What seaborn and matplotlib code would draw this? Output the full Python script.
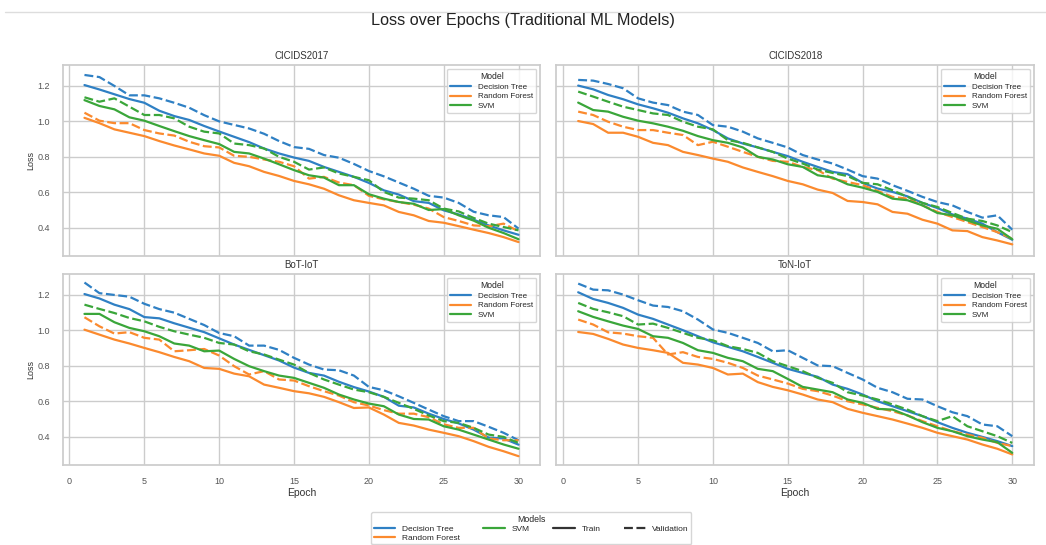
import numpy as np
import pandas as pd
import matplotlib.pyplot as plt
import seaborn as sns
from matplotlib.lines import Line2D

epochs = list(range(1, 31))
datasets = ['CICIDS2017', 'CICIDS2018', 'BoT-IoT', 'ToN-IoT']
models = ['Decision Tree', 'Random Forest', 'SVM']

# CICIDS2017
cic17_dt_train = [1.205, 1.18, 1.153, 1.126, 1.105, 1.06, 1.03, 1.008, 0.974, 0.943, 0.913, 0.883, 0.847, 0.819, 0.796,
                  0.777, 0.743, 0.715, 0.687, 0.653, 0.611, 0.587, 0.55, 0.54, 0.498, 0.475, 0.445, 0.413, 0.385, 0.36]
cic17_dt_val = [1.262, 1.25, 1.2, 1.147, 1.147, 1.13, 1.105, 1.077, 1.035, 1.0, 0.98, 0.96, 0.93, 0.889, 0.855,
                0.845, 0.81, 0.795, 0.76, 0.72, 0.69, 0.655, 0.62, 0.58, 0.57, 0.54, 0.49, 0.47, 0.46, 0.395]
cic17_rf_train = [1.02, 0.99, 0.955, 0.936, 0.917, 0.889, 0.864, 0.842, 0.819, 0.806, 0.766, 0.747, 0.715, 0.692, 0.664,
                  0.645, 0.62, 0.583, 0.555, 0.54, 0.526, 0.489, 0.47, 0.438, 0.428, 0.409, 0.389, 0.37, 0.347, 0.319]
cic17_rf_val = [1.049, 1.004, 0.99, 0.99, 0.951, 0.932, 0.92, 0.885, 0.86, 0.853, 0.806, 0.8, 0.785, 0.772, 0.747,
                0.677, 0.687, 0.655, 0.64, 0.58, 0.56, 0.545, 0.53, 0.508, 0.46, 0.438, 0.413, 0.408, 0.423, 0.38]
cic17_svm_train = [1.12, 1.087, 1.068, 1.023, 1.004, 0.974, 0.945, 0.917, 0.894, 0.872, 0.828, 0.819, 0.79, 0.758, 0.725,
                   0.696, 0.683, 0.64, 0.64, 0.589, 0.564, 0.545, 0.535, 0.5, 0.505, 0.47, 0.44, 0.4, 0.37, 0.335]
cic17_svm_val = [1.136, 1.111, 1.13, 1.083, 1.036, 1.036, 1.017, 0.97, 0.942, 0.932, 0.875, 0.866, 0.847, 0.8, 0.772,
                 0.728, 0.74, 0.706, 0.687, 0.668, 0.602, 0.57, 0.564, 0.555, 0.508, 0.492, 0.455, 0.423, 0.404, 0.385]

# CICIDS2018
cic18_dt_train = [1.202, 1.181, 1.149, 1.125, 1.096, 1.074, 1.049, 1.017, 0.989, 0.951, 0.904, 0.875, 0.853, 0.828, 0.804,
                  0.772, 0.743, 0.715, 0.702, 0.653, 0.621, 0.602, 0.577, 0.54, 0.511, 0.475, 0.451, 0.423, 0.375, 0.332]
cic18_dt_val = [1.234, 1.23, 1.211, 1.187, 1.13, 1.106, 1.092, 1.055, 1.036, 0.979, 0.97, 0.942, 0.904, 0.879, 0.853,
                0.81, 0.785, 0.762, 0.728, 0.691, 0.677, 0.64, 0.608, 0.574, 0.545, 0.526, 0.489, 0.457, 0.47, 0.389]
cic18_rf_train = [1.002, 0.985, 0.936, 0.936, 0.913, 0.879, 0.866, 0.828, 0.81, 0.79, 0.772, 0.74, 0.715, 0.691, 0.664,
                  0.645, 0.615, 0.596, 0.551, 0.545, 0.532, 0.489, 0.479, 0.445, 0.423, 0.385, 0.381, 0.347, 0.328, 0.306]
cic18_rf_val = [1.055, 1.036, 0.998, 0.97, 0.951, 0.951, 0.936, 0.923, 0.866, 0.885, 0.857, 0.828, 0.8, 0.777, 0.772,
                0.743, 0.725, 0.677, 0.658, 0.64, 0.608, 0.574, 0.564, 0.526, 0.489, 0.46, 0.432, 0.404, 0.375, 0.338]
cic18_svm_train = [1.106, 1.064, 1.055, 1.026, 1.004, 0.989, 0.97, 0.947, 0.917, 0.894, 0.879, 0.853, 0.8, 0.785, 0.758,
                   0.743, 0.696, 0.683, 0.645, 0.626, 0.602, 0.564, 0.555, 0.526, 0.483, 0.47, 0.441, 0.413, 0.394, 0.335]
cic18_svm_val = [1.168, 1.14, 1.111, 1.083, 1.064, 1.045, 1.036, 0.998, 0.97, 0.955, 0.894, 0.879, 0.853, 0.828, 0.79,
                 0.762, 0.728, 0.709, 0.691, 0.653, 0.645, 0.611, 0.574, 0.54, 0.517, 0.483, 0.451, 0.438, 0.413, 0.375]

# BoT-IoT
bot_dt_train = [1.205, 1.18, 1.145, 1.12, 1.075, 1.068, 1.04, 1.015, 0.99, 0.955, 0.92, 0.89, 0.86, 0.83, 0.79,
                0.76, 0.745, 0.71, 0.68, 0.655, 0.625, 0.575, 0.565, 0.53, 0.5, 0.475, 0.44, 0.395, 0.39, 0.355]
bot_dt_val = [1.27, 1.21, 1.2, 1.19, 1.15, 1.12, 1.1, 1.065, 1.03, 0.985, 0.967, 0.914, 0.914, 0.89, 0.845,
              0.807, 0.779, 0.775, 0.745, 0.681, 0.662, 0.628, 0.591, 0.553, 0.516, 0.488, 0.488, 0.456, 0.422, 0.38]
bot_rf_train = [1.004, 0.976, 0.948, 0.926, 0.901, 0.877, 0.85, 0.826, 0.788, 0.783, 0.756, 0.741, 0.694, 0.676, 0.657,
                0.645, 0.625, 0.595, 0.562, 0.565, 0.525, 0.478, 0.463, 0.44, 0.422, 0.403, 0.375, 0.343, 0.318, 0.29]
bot_rf_val = [1.074, 1.023, 0.982, 0.99, 0.958, 0.948, 0.882, 0.888, 0.895, 0.858, 0.798, 0.751, 0.77, 0.723, 0.717,
              0.685, 0.657, 0.632, 0.595, 0.576, 0.55, 0.53, 0.53, 0.51, 0.47, 0.45, 0.45, 0.39, 0.38, 0.38]
bot_svm_train = [1.093, 1.093, 1.046, 1.014, 0.995, 0.967, 0.926, 0.914, 0.882, 0.886, 0.839, 0.798, 0.77, 0.745, 0.732,
                 0.704, 0.676, 0.638, 0.61, 0.587, 0.572, 0.525, 0.5, 0.497, 0.459, 0.44, 0.412, 0.384, 0.356, 0.332]
bot_svm_val = [1.145, 1.121, 1.098, 1.07, 1.051, 1.02, 0.995, 0.976, 0.958, 0.929, 0.92, 0.882, 0.864, 0.835, 0.807,
               0.76, 0.723, 0.694, 0.666, 0.651, 0.625, 0.591, 0.557, 0.52, 0.488, 0.478, 0.45, 0.412, 0.399, 0.365]

# ToN-IoT
ton_dt_train = [1.215, 1.177, 1.155, 1.127, 1.089, 1.065, 1.033, 1.001, 0.967, 0.933, 0.907, 0.882, 0.85, 0.817, 0.783,
                0.76, 0.738, 0.694, 0.67, 0.638, 0.6, 0.572, 0.544, 0.516, 0.482, 0.45, 0.422, 0.399, 0.375, 0.347]
ton_dt_val = [1.264, 1.23, 1.226, 1.202, 1.17, 1.14, 1.132, 1.108, 1.061, 1.005, 0.986, 0.958, 0.929, 0.882, 0.888,
              0.845, 0.802, 0.798, 0.76, 0.723, 0.676, 0.651, 0.614, 0.61, 0.572, 0.538, 0.516, 0.469, 0.459, 0.403]
ton_rf_train = [0.991, 0.98, 0.952, 0.92, 0.901, 0.888, 0.873, 0.817, 0.807, 0.788, 0.751, 0.756, 0.708, 0.681, 0.662,
                0.638, 0.61, 0.595, 0.557, 0.535, 0.516, 0.497, 0.474, 0.45, 0.422, 0.403, 0.384, 0.356, 0.332, 0.3]
ton_rf_val = [1.061, 1.033, 0.989, 0.982, 0.967, 0.958, 0.864, 0.877, 0.85, 0.839, 0.817, 0.788, 0.745, 0.723, 0.7,
              0.67, 0.657, 0.632, 0.6, 0.582, 0.563, 0.544, 0.52, 0.488, 0.459, 0.431, 0.412, 0.394, 0.365, 0.347]
ton_svm_train = [1.108, 1.076, 1.051, 1.027, 1.008, 0.967, 0.958, 0.929, 0.888, 0.873, 0.845, 0.826, 0.783, 0.77, 0.726,
                 0.681, 0.666, 0.651, 0.61, 0.591, 0.557, 0.553, 0.52, 0.482, 0.45, 0.431, 0.403, 0.384, 0.369, 0.309]
ton_svm_val = [1.155, 1.121, 1.102, 1.08, 1.033, 1.038, 1.014, 0.986, 0.958, 0.944, 0.911, 0.895, 0.873, 0.826, 0.798,
               0.77, 0.732, 0.704, 0.651, 0.632, 0.61, 0.582, 0.553, 0.516, 0.488, 0.516, 0.459, 0.431, 0.403, 0.365]

series = {
    'CICIDS2017': [cic17_dt_train, cic17_dt_val, cic17_rf_train, cic17_rf_val, cic17_svm_train, cic17_svm_val],
    'CICIDS2018': [cic18_dt_train, cic18_dt_val, cic18_rf_train, cic18_rf_val, cic18_svm_train, cic18_svm_val],
    'BoT-IoT': [bot_dt_train, bot_dt_val, bot_rf_train, bot_rf_val, bot_svm_train, bot_svm_val],
    'ToN-IoT': [ton_dt_train, ton_dt_val, ton_rf_train, ton_rf_val, ton_svm_train, ton_svm_val],
}

rows = []
for ds in datasets:
    vals = series[ds]
    for i, m in enumerate(models):
        for split, arr in zip(['Train', 'Validation'], [vals[2 * i], vals[2 * i + 1]]):
            for e, v in zip(epochs, arr):
                rows.append((ds, m, split, e, v))
df = pd.DataFrame(rows, columns=['Dataset', 'Model', 'Split', 'Epoch', 'Loss'])

sns.set_theme(style='whitegrid')
plt.rcParams['font.family'] = ['Liberation Sans', 'DejaVu Sans']

palette = dict(zip(models, ['#2f80c4', '#fb8a2e', '#3aa63a']))
dashes = {'Train': '', 'Validation': (4, 1.6)}

fig, axes = plt.subplots(2, 2, figsize=(10.46, 5.45), dpi=100, sharex=True, sharey=True)
fig.subplots_adjust(left=0.060, right=0.9885, top=0.881, bottom=0.147, wspace=0.034, hspace=0.094)

for ax, ds in zip(axes.flat, datasets):
    sub = df[df['Dataset'] == ds]
    sns.lineplot(data=sub, x='Epoch', y='Loss', hue='Model', style='Split', palette=palette,
                 dashes=dashes, linewidth=1.6, ax=ax, legend=False)
    ax.set_title(ds, fontsize=7, pad=4, color='#333333')
    ax.tick_params(labelsize=6.5, colors='#555555', pad=3)
    ax.set_xticks(range(0, 31, 5))
    handles = [Line2D([], [], color=palette[m], lw=1.6) for m in models]
    ax.legend(handles, models, title='Model', loc='upper right', fontsize=5.8, title_fontsize=6.2,
              handlelength=2.6, borderpad=0.4, labelspacing=0.25)

for ax in axes[0]:
    ax.set_xlabel('')
for ax in axes[1]:
    ax.set_xlabel('Epoch', fontsize=7.5, labelpad=1, color='#333333')
for ax in axes[:, 0]:
    ax.set_ylabel('Loss', fontsize=6.5, color='#333333', labelpad=2)
for ax in axes[:, 1]:
    ax.set_ylabel('')

fig.suptitle('Loss over Epochs (Traditional ML Models)', fontsize=11.7, y=0.977, color='#222222')
fig.add_artist(Line2D([0.005, 1.0], [0.978, 0.978], transform=fig.transFigure, color='#dddddd', lw=1))

leg_handles = [Line2D([], [], color=palette[m], lw=1.6) for m in models]
leg_handles += [Line2D([], [], color='#333333', lw=1.6),
                Line2D([], [], color='#333333', lw=1.6, dashes=(4, 1.6))]
fig.legend(leg_handles, models + ['Train', 'Validation'], title='Models', ncol=4,
           loc='upper center', bbox_to_anchor=(0.508, 1 - 508 / 545), fontsize=6, title_fontsize=6.3,
           handlelength=2.6, borderpad=0.3, labelspacing=0.15, columnspacing=2.8)

plt.savefig('out.png', dpi=100)
